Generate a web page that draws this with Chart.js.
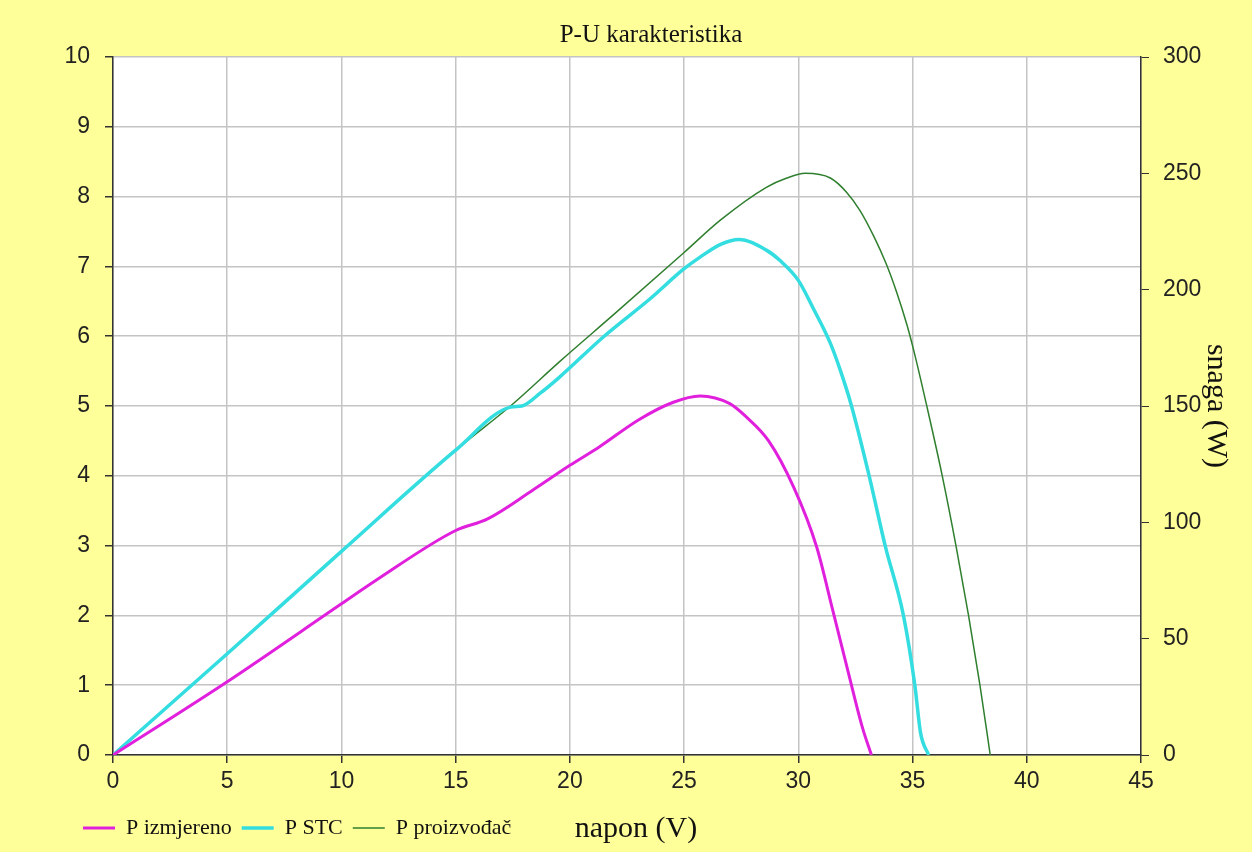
<!DOCTYPE html>
<html>
<head>
<meta charset="utf-8">
<title>P-U karakteristika</title>
<script src="https://cdn.jsdelivr.net/npm/chart.js@4/dist/chart.umd.min.js"></script>
<style>
  html, body { margin: 0; padding: 0; background: #fff; overflow: hidden; }
  #wrap { width: 1252px; height: 852px; }
  canvas { background: #FFFF99; }
</style>
</head>
<body>
<div id="wrap"><canvas id="chartPU"></canvas></div>
<script>
// P-U karakteristika – napon (V) / snaga (W)

const naslov = 'P-U karakteristika';
const xNaslov = 'napon (V)';
const y1Naslov = 'snaga (W)';

// P izmjereno
const uIzmjereno = [0, 5, 10, 11.5, 15, 16.4, 18.4, 20, 21.3, 23, 24.5, 25.7, 27, 27.7, 28.7, 29.8, 30.8, 31.5, 32.2, 32.8, 33.2];
const pIzmjereno = [0, 31.5, 65, 75, 96.5, 101.5, 114, 124.5, 132.5, 144, 151.5, 154.3, 151, 145.5, 135, 115, 89.5, 62.5, 35, 12, 0];

// P STC
const uStc = [0, 5, 10, 15, 17.4, 17.9, 18.7, 19.5, 21.5, 23.5, 25, 25.7, 26.6, 27.4, 28.6, 29.2, 30, 30.65, 31.4, 31.85, 32.3, 33.1, 33.8, 34.6, 35.1, 35.35, 35.7];
const pStc = [0, 43.5, 87.5, 131, 149.5, 150, 155.5, 162, 180, 196, 209, 214, 219.5, 221.6, 217, 212.5, 204, 192, 177, 165, 151, 120, 90, 60, 30, 9.5, 0];

// P proizvođač
const uProizvodac = [0, 5, 10, 15, 17.4, 19.6, 22, 25, 26.6, 28.6, 29.5, 30.3, 31.4, 32.1, 32.7, 33.3, 33.85, 34.3, 34.75, 35.1, 35.6, 36.3, 36.9, 37.45, 37.95, 38.4];
const pProizvodac = [0, 43.5, 87.5, 131, 150, 169.5, 190, 216, 230, 244, 248, 250, 248, 242, 234, 223, 211, 199, 185, 172, 151, 120, 90, 60, 30, 0];

// osi
const xMin = 0, xMax = 45, xKorak = 5;
const yMin = 0, yMax = 10, yKorak = 1;
const y1Min = 0, y1Max = 300, y1Korak = 50;

function tocke(u, p) {
  return u.map((v, i) => ({ x: v, y: p[i] }));
}

const serif = '"Liberation Serif", "Times New Roman", serif';
const sans = '"Liberation Sans", Arial, sans-serif';

// bijela pozadina područja grafa
const pozadina = {
  id: 'pozadina',
  beforeDraw(chart) {
    const { ctx, chartArea: a } = chart;
    ctx.save();
    ctx.fillStyle = '#ffffff';
    ctx.fillRect(a.left, a.top, a.right - a.left, a.bottom - a.top);
    ctx.restore();
  }
};

// legenda malo udesno (lijeva os treba mjesta za oznake)
const pomakLegende = {
  id: 'pomakLegende',
  afterLayout(chart) {
    chart.legend.left += 23;
  }
};

// naslov x osi u istom redu kao legenda
const xOsNaslov = {
  id: 'xOsNaslov',
  afterDraw(chart) {
    const { ctx, chartArea: a } = chart;
    ctx.save();
    ctx.font = '30px ' + serif;
    ctx.fillStyle = '#111';
    ctx.textAlign = 'center';
    ctx.textBaseline = 'middle';
    ctx.fillText(xNaslov, (a.left + a.right) / 2 + 9, 829);
    ctx.restore();
  }
};

const ctx = document.getElementById('chartPU').getContext('2d');
new Chart(ctx, {
  type: 'line',
  data: {
    datasets: [
      {
        label: 'P izmjereno',
        data: tocke(uIzmjereno, pIzmjereno),
        borderColor: '#E020DC',
        borderWidth: 3,
        yAxisID: 'y1'
      },
      {
        label: 'P STC',
        data: tocke(uStc, pStc),
        borderColor: '#33DDE0',
        borderWidth: 3.5,
        yAxisID: 'y1'
      },
      {
        label: 'P proizvođač',
        data: tocke(uProizvodac, pProizvodac),
        borderColor: '#2F7F2F',
        borderWidth: 1.5,
        yAxisID: 'y1'
      }
    ]
  },
  options: {
    responsive: true,
    maintainAspectRatio: false,
    animation: false,
    layout: { padding: { left: 50, right: 0, top: 0, bottom: 3 } },
    elements: {
      point: { radius: 0 },
      line: { cubicInterpolationMode: 'monotone', fill: false }
    },
    plugins: {
      title: {
        display: true,
        text: naslov,
        color: '#111',
        font: { family: serif, size: 25, weight: 'normal' },
        padding: { top: 20, bottom: 7 }
      },
      legend: {
        position: 'bottom',
        align: 'start',
        labels: {
          usePointStyle: true,
          pointStyle: 'line',
          pointStyleWidth: 32,
          padding: 10,
          color: '#111',
          font: { family: serif, size: 22 }
        }
      },
      tooltip: { enabled: false }
    },
    scales: {
      x: {
        type: 'linear',
        min: xMin,
        max: xMax,
        afterFit: s => { s.height = 52; },
        ticks: { stepSize: xKorak, color: '#222', padding: 5, font: { family: sans, size: 23 } },
        grid: { color: '#c4c4c4', lineWidth: 1.5, tickColor: '#333', tickLength: 8 },
        border: { color: '#333', width: 1.5 }
      },
      y: {
        type: 'linear',
        position: 'left',
        min: yMin,
        max: yMax,
        afterFit: s => { s.width = 63; },
        ticks: { stepSize: yKorak, color: '#222', padding: 15, font: { family: sans, size: 23 } },
        grid: { color: '#c4c4c4', lineWidth: 1.5, tickColor: '#333', tickLength: 8 },
        border: { color: '#333', width: 1.5 }
      },
      y1: {
        type: 'linear',
        position: 'right',
        min: y1Min,
        max: y1Max,
        afterFit: s => { s.width = 111; },
        ticks: { stepSize: y1Korak, color: '#222', padding: 14, font: { family: sans, size: 23 } },
        grid: { drawOnChartArea: false, tickColor: '#333', tickLength: 8 },
        border: { color: '#333', width: 1.5 },
        title: {
          display: true,
          text: y1Naslov,
          color: '#111',
          font: { family: serif, size: 30 },
          padding: { top: 18, bottom: 0 }
        }
      }
    }
  },
  plugins: [pozadina, pomakLegende, xOsNaslov]
});
</script>
</body>
</html>
